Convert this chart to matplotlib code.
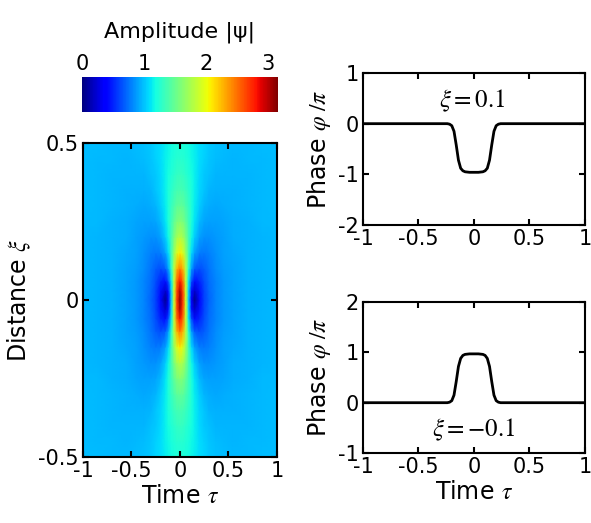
import matplotlib.pyplot as plt
import numpy as np
from matplotlib.cm import ScalarMappable
from matplotlib.colors import Normalize

plt.rcParams['font.family'] = 'DejaVu Sans'
plt.rcParams['mathtext.fontset'] = 'stix'
plt.rcParams['axes.unicode_minus'] = False

## amplitude |psi| on one quadrant (tau >= 0, xi >= 0), field is symmetric in both
tau_half = [0, 0.03, 0.06, 0.09, 0.12, 0.15, 0.2, 0.25, 0.3, 0.37, 0.45, 0.55, 0.7, 0.85, 1.0]
xi_half = [0, 0.03, 0.06, 0.1, 0.15, 0.2, 0.25, 0.3, 0.35, 0.4, 0.45, 0.5]
amp_quadrant = [
    [3.10, 2.70, 1.90, 1.00, 0.34, 0.06, 0.41, 0.60, 0.71, 0.81, 0.87, 0.91, 0.94, 0.96, 0.97],
    [3.02, 2.65, 1.90, 1.04, 0.44, 0.23, 0.44, 0.61, 0.72, 0.81, 0.87, 0.91, 0.94, 0.96, 0.97],
    [2.80, 2.52, 1.85, 1.12, 0.64, 0.44, 0.51, 0.64, 0.73, 0.81, 0.87, 0.91, 0.94, 0.96, 0.97],
    [2.45, 2.28, 1.80, 1.26, 0.88, 0.68, 0.63, 0.69, 0.76, 0.83, 0.88, 0.91, 0.95, 0.96, 0.97],
    [2.07, 1.95, 1.68, 1.35, 1.07, 0.90, 0.78, 0.77, 0.80, 0.85, 0.89, 0.92, 0.95, 0.96, 0.97],
    [1.80, 1.74, 1.57, 1.36, 1.17, 1.03, 0.89, 0.85, 0.85, 0.87, 0.90, 0.93, 0.95, 0.96, 0.97],
    [1.61, 1.57, 1.48, 1.34, 1.21, 1.10, 0.97, 0.91, 0.90, 0.90, 0.91, 0.93, 0.95, 0.97, 0.97],
    [1.48, 1.46, 1.39, 1.31, 1.22, 1.13, 1.03, 0.96, 0.93, 0.92, 0.93, 0.94, 0.96, 0.97, 0.98],
    [1.38, 1.37, 1.33, 1.27, 1.21, 1.14, 1.06, 1.00, 0.96, 0.95, 0.94, 0.95, 0.96, 0.97, 0.98],
    [1.31, 1.30, 1.27, 1.23, 1.19, 1.14, 1.07, 1.02, 0.99, 0.96, 0.96, 0.96, 0.96, 0.97, 0.98],
    [1.25, 1.25, 1.23, 1.20, 1.17, 1.14, 1.08, 1.04, 1.01, 0.98, 0.97, 0.96, 0.97, 0.97, 0.98],
    [1.21, 1.21, 1.20, 1.18, 1.15, 1.13, 1.08, 1.05, 1.02, 0.99, 0.98, 0.97, 0.97, 0.98, 0.98],
]
amp_max = 3.16

## phase profiles at xi = +0.1 and xi = -0.1
tau_phase = [-1, -0.24, -0.22, -0.2, -0.18, -0.16, -0.14, -0.12, -0.1, -0.08, -0.04, 0,
             0.04, 0.08, 0.1, 0.12, 0.14, 0.16, 0.18, 0.2, 0.22, 0.24, 1]
phase_top = [0, 0, -0.01, -0.04, -0.15, -0.42, -0.72, -0.88, -0.93, -0.95, -0.96, -0.96,
             -0.96, -0.95, -0.93, -0.88, -0.72, -0.42, -0.15, -0.04, -0.01, 0, 0]
phase_bot = [0, 0, 0.01, 0.04, 0.15, 0.42, 0.72, 0.88, 0.94, 0.96, 0.97, 0.97,
             0.97, 0.96, 0.94, 0.88, 0.72, 0.42, 0.15, 0.04, 0.01, 0, 0]

# unfold the quadrant to the full plane
q = np.array(amp_quadrant)
tau = np.concatenate([-np.array(tau_half[:0:-1]), tau_half])
xi = np.concatenate([-np.array(xi_half[:0:-1]), xi_half])
amp = np.hstack([q[:, :0:-1], q])
amp = np.vstack([amp[:0:-1, :], amp])

fig = plt.figure(figsize=(5.91, 5.23), dpi=100)
ax_map = fig.add_axes([0.1404, 0.1262, 0.3283, 0.6004])
cax = fig.add_axes([0.1387, 0.7859, 0.3317, 0.0669])
ax_top = fig.add_axes([0.6142, 0.5698, 0.3756, 0.2906])
ax_bot = fig.add_axes([0.6142, 0.1338, 0.3756, 0.2887])

norm = Normalize(vmin=0, vmax=amp_max)
ax_map.pcolormesh(tau, xi, amp, shading='gouraud', cmap='jet', norm=norm)
ax_map.set_xlim(-1, 1)
ax_map.set_ylim(-0.5, 0.5)
ax_map.set_xticks([-1, -0.5, 0, 0.5, 1])
ax_map.set_xticklabels(['-1', '-0.5', '0', '0.5', '1'])
ax_map.set_yticks([-0.5, 0, 0.5])
ax_map.set_yticklabels(['-0.5', '0', '0.5'])
ax_map.set_xlabel(r'Time $\tau$', fontsize=17, labelpad=2)
ax_map.set_ylabel(r'Distance $\xi$', fontsize=17, labelpad=4)

cb = fig.colorbar(ScalarMappable(norm=norm, cmap='jet'), cax=cax, orientation='horizontal')
cb.set_ticks([0, 1, 2, 3])
cb.outline.set_visible(False)
cax.xaxis.set_ticks_position('top')
cax.xaxis.set_label_position('top')
cax.tick_params(length=0, labelsize=15, pad=2)
cax.set_xlabel('Amplitude |ψ|', fontsize=16, labelpad=12)

ax_top.plot(tau_phase, phase_top, color='k', lw=2)
ax_top.set_ylim(-2, 1)
ax_top.set_yticks([-2, -1, 0, 1])
ax_top.text(-0.02, 0.45, r'$\xi = 0.1$', fontsize=18, ha='center', va='center')

ax_bot.plot(tau_phase, phase_bot, color='k', lw=2)
ax_bot.set_ylim(-1, 2)
ax_bot.set_yticks([-1, 0, 1, 2])
ax_bot.text(0.0, -0.55, r'$\xi = -0.1$', fontsize=18, ha='center', va='center')
ax_bot.set_xlabel(r'Time $\tau$', fontsize=17, labelpad=2)

for ax in (ax_top, ax_bot):
    ax.set_xlim(-1, 1)
    ax.set_xticks([-1, -0.5, 0, 0.5, 1])
    ax.set_xticklabels(['-1', '-0.5', '0', '0.5', '1'])
    ax.set_ylabel(r'Phase $\varphi\ /\pi$', fontsize=17, labelpad=4)

for ax in (ax_map, ax_top, ax_bot):
    ax.tick_params(direction='in', top=True, right=True, length=4, width=1.5,
                   labelsize=15, pad=3)
    for s in ax.spines.values():
        s.set_linewidth(1.5)

fig.savefig('out.png', dpi=100)
